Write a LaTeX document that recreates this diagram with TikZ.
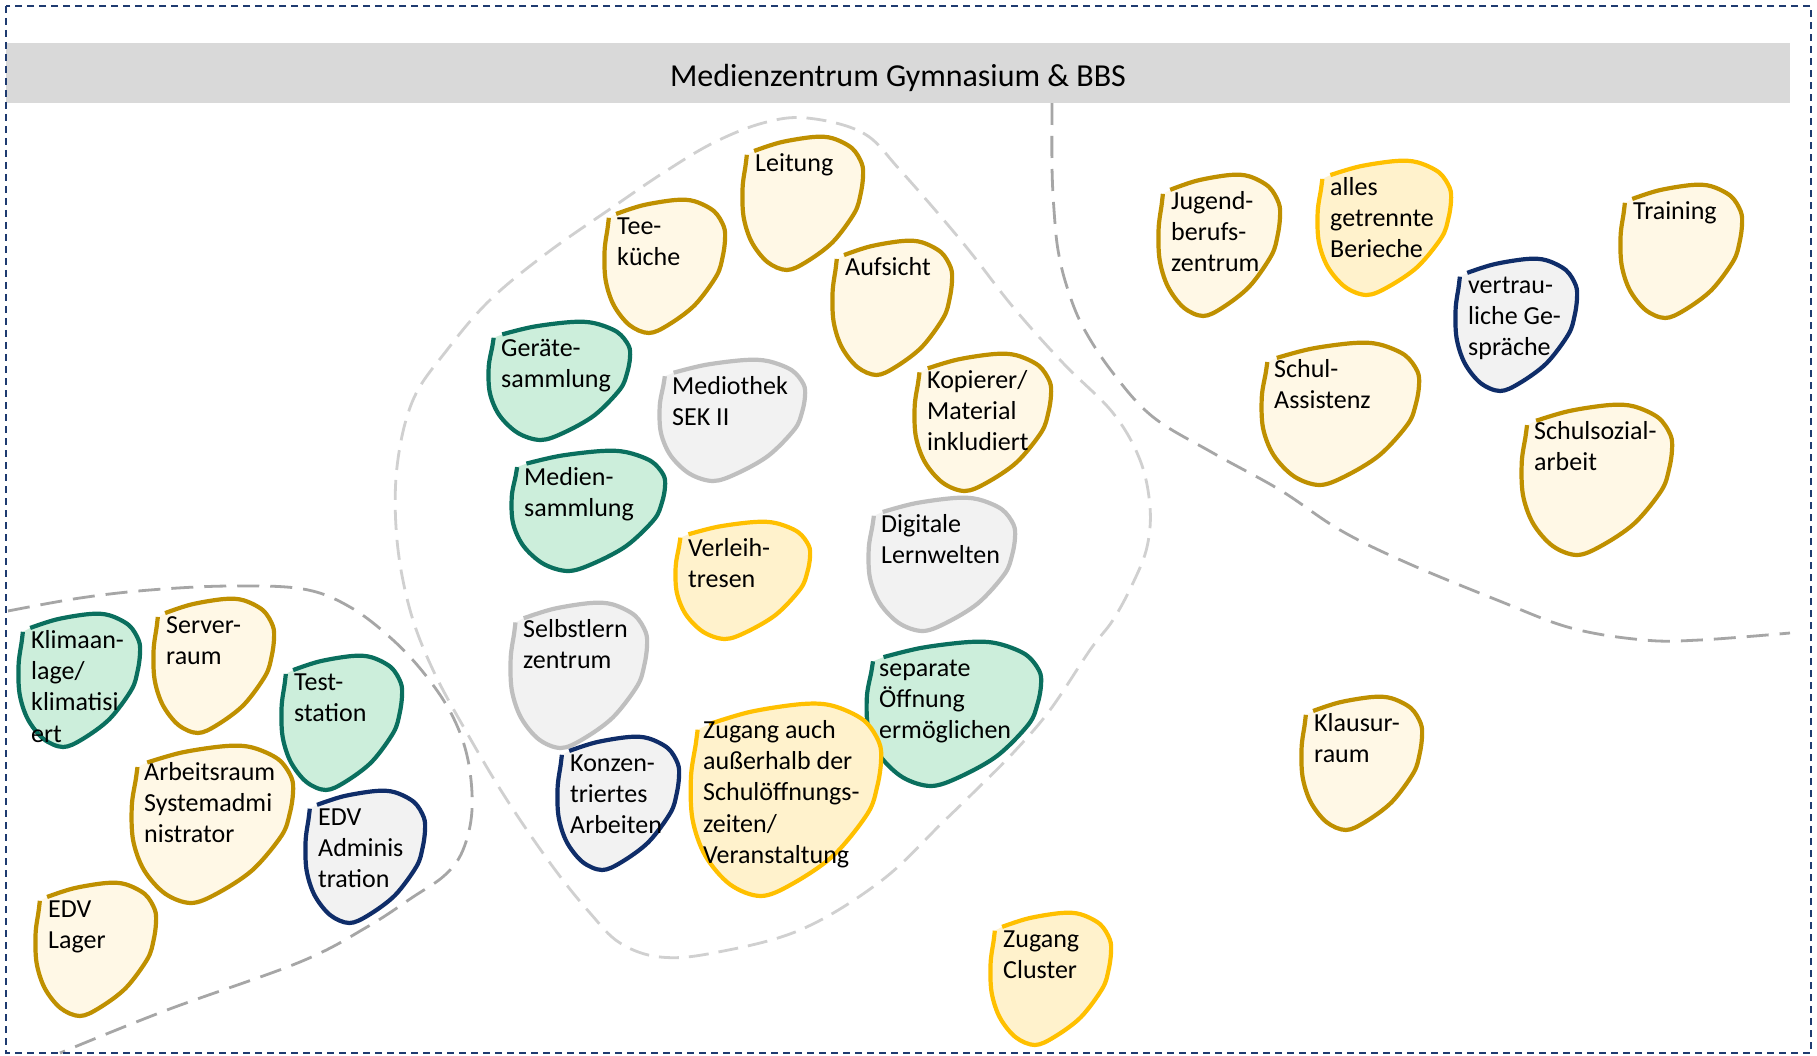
\documentclass[tikz,border=0pt]{standalone}
\usepackage{fontspec}
\setmainfont{Carlito}
\definecolor{goldline}{HTML}{BF9000}
\definecolor{goldfill}{HTML}{FFF8E6}
\definecolor{yelline}{HTML}{FFC000}
\definecolor{yelfill}{HTML}{FFF2CC}
\definecolor{tealline}{HTML}{0A6F5E}
\definecolor{tealfill}{HTML}{CCEEDB}
\definecolor{navyline}{HTML}{0F2D69}
\definecolor{greyfill}{HTML}{F2F2F2}
\definecolor{greyline}{HTML}{BFBFBF}
\definecolor{zonedark}{HTML}{A6A6A6}
\definecolor{zonelight}{HTML}{D0D0D0}
\definecolor{framecol}{HTML}{1F3B70}
\definecolor{headfill}{HTML}{D9D9D9}

% a room: teardrop outline with its label in the upper left
% #1 name, #2 style, #3 x, #4 y (top left), #5 width, #6 height, #7 label
\newcommand\roomblob[7]{%
  \pgfmathsetmacro\rbx{#3+2}\pgfmathsetmacro\rby{#4+2}%
  \pgfmathsetmacro\rbw{#5-4}\pgfmathsetmacro\rbh{#6-4}%
  \begin{scope}[shift={(\rbx,\rby)}, xscale=\rbw, yscale=\rbh]
    \path[#2] plot[smooth, tension=0.55] coordinates {
      (0.10,0.105) (0.32,0.04) (0.59,0.0) (0.75,0.01) (0.91,0.085)
      (0.99,0.20) (1.0,0.30) (0.98,0.43) (0.93,0.57) (0.75,0.79)
      (0.53,0.94) (0.37,1.0) (0.21,0.94) (0.08,0.79) (0.013,0.60)
      (0.005,0.38) (0.03,0.21) (0.04,0.134)};
  \end{scope}
  \node[roomtext] (#1) at (#3+15,#4+14) {\strut #7};
}

\begin{document}
\begin{tikzpicture}[x=1pt, y=-1pt,
  every node/.style={inner sep=0pt},
  roomtext/.style={anchor=north west, align=left,
    font=\fontsize{26}{31.3}\selectfont, text=black},
  outline/.style={line width=4.2pt, line join=round},
  goldroom/.style={outline, draw=goldline, fill=goldfill},
  yelroom/.style={outline, draw=yelline, fill=yelfill},
  tealroom/.style={outline, draw=tealline, fill=tealfill},
  navyroom/.style={outline, draw=navyline, fill=greyfill},
  greyroom/.style={outline, draw=greyline, fill=greyfill},
  zone/.style={draw=zonedark, line width=2.8pt, dash pattern=on 22pt off 11pt},
  zonepale/.style={draw=zonelight, line width=2.8pt, dash pattern=on 20pt off 10pt},
  frame/.style={draw=framecol, line width=1.8pt, dash pattern=on 7pt off 5pt}
]
\useasboundingbox (0,0) rectangle (1817,1056);
\fill[white] (0,0) rectangle (1817,1056);

% zone boundaries
\path[zone] plot[smooth, tension=0.6] coordinates {
  (8,611) (80,598) (150,590) (230,586) (303,589) (350,607) (393,640)
  (427,677) (453,717) (468,760) (472,810) (463,850) (445,875)
  (413,897) (367,927) (300,962) (167,1010) (60,1053)};
\path[zonepale] plot[smooth cycle, tension=0.6] coordinates {
  (807,118) (863,133) (900,170) (963,243) (1013,307) (1063,363)
  (1113,413) (1140,460) (1150,507) (1147,547) (1133,583) (1113,620)
  (1090,650) (1050,710) (1013,753) (973,793) (943,822) (881,881)
  (800,930) (713,953) (660,957) (620,943) (590,913) (553,867)
  (507,800) (467,733) (433,670) (410,610) (397,540) (397,467)
  (413,400) (447,350) (490,300) (547,253) (613,207) (663,173)
  (713,143) (763,123)};
\path[zone] plot[smooth, tension=0.6] coordinates {
  (1052,103) (1052,167) (1054,210) (1058,250) (1067,287) (1083,327)
  (1113,373) (1153,417) (1213,453) (1280,490) (1340,530) (1405,562)
  (1497,600) (1571,628) (1644,640) (1700,640) (1790,633)};

% title bar
\node[fill=headfill, minimum width=1784pt, minimum height=60pt] (bar) at (898,73) {};
\node[anchor=base, font=\fontsize{32}{38}\selectfont] (title) at (898,87)
  {Medienzentrum Gymnasium \& BBS};

% technical rooms
\roomblob{klima}{tealroom}{16}{612}{126}{137}{Klimaan-\\lage/\\klimatisi\\ert}
\roomblob{server}{goldroom}{151}{597}{125}{138}{Server-\\raum}
\roomblob{test}{tealroom}{279}{654}{125}{138}{Test-\\station}
\roomblob{admin}{goldroom}{129}{744}{166}{161}{Arbeitsraum\\Systemadmi\\nistrator}
\roomblob{edvadm}{navyroom}{303}{789}{124}{136}{EDV\\Adminis\\tration}
\roomblob{lager}{goldroom}{33}{881}{125}{137}{EDV\\Lager}

% media centre
\roomblob{tee}{goldroom}{602}{198}{125}{137}{Tee-\\küche}
\roomblob{leitung}{goldroom}{740}{135}{125}{137}{Leitung}
\roomblob{aufsicht}{goldroom}{830}{239}{124}{138}{Aufsicht}
\roomblob{geraete}{tealroom}{486}{320}{146}{122}{Geräte-\\sammlung}
\roomblob{mediothek}{greyroom}{657}{358}{150}{125}{Mediothek\\SEK II}
\roomblob{kopierer}{goldroom}{912}{352}{141}{141}{Kopierer/\\Material\\inkludiert}
\roomblob{medien}{tealroom}{509}{449}{158}{124}{Medien-\\sammlung}
\roomblob{verleih}{yelroom}{673}{520}{139}{121}{Verleih-\\tresen}
\roomblob{digital}{greyroom}{866}{496}{151}{137}{Digitale\\Lernwelten}
\roomblob{selbst}{greyroom}{508}{601}{141}{149}{Selbstlern\\zentrum}
\roomblob{konzen}{navyroom}{555}{735}{126}{137}{Konzen-\\triertes\\Arbeiten}
\roomblob{separat}{tealroom}{864}{640}{179}{148}{separate\\Öffnung\\ermöglichen}
\roomblob{zugang}{yelroom}{688}{702}{195}{196}{Zugang auch\\außerhalb der\\Schulöffnungs-\\zeiten/\\Veranstaltung}

% other areas
\roomblob{jugend}{goldroom}{1156}{173}{126}{145}{Jugend-\\berufs-\\zentrum}
\roomblob{alles}{yelroom}{1315}{159}{138}{138}{alles\\getrennte\\Berieche}
\roomblob{training}{goldroom}{1618}{183}{126}{137}{Training}
\roomblob{vertrau}{navyroom}{1453}{257}{126}{136}{vertrau-\\liche Ge-\\spräche}
\roomblob{assistenz}{goldroom}{1259}{341}{162}{146}{Schul-\\Assistenz}
\roomblob{sozial}{goldroom}{1519}{403}{155}{154}{Schulsozial-\\arbeit}
\roomblob{klausur}{goldroom}{1299}{695}{125}{137}{Klausur-\\raum}
\roomblob{cluster}{yelroom}{988}{911}{125}{136}{Zugang\\Cluster}

% outer frame
\draw[frame] (6,6) rectangle (1811,1053);
\end{tikzpicture}
\end{document}
